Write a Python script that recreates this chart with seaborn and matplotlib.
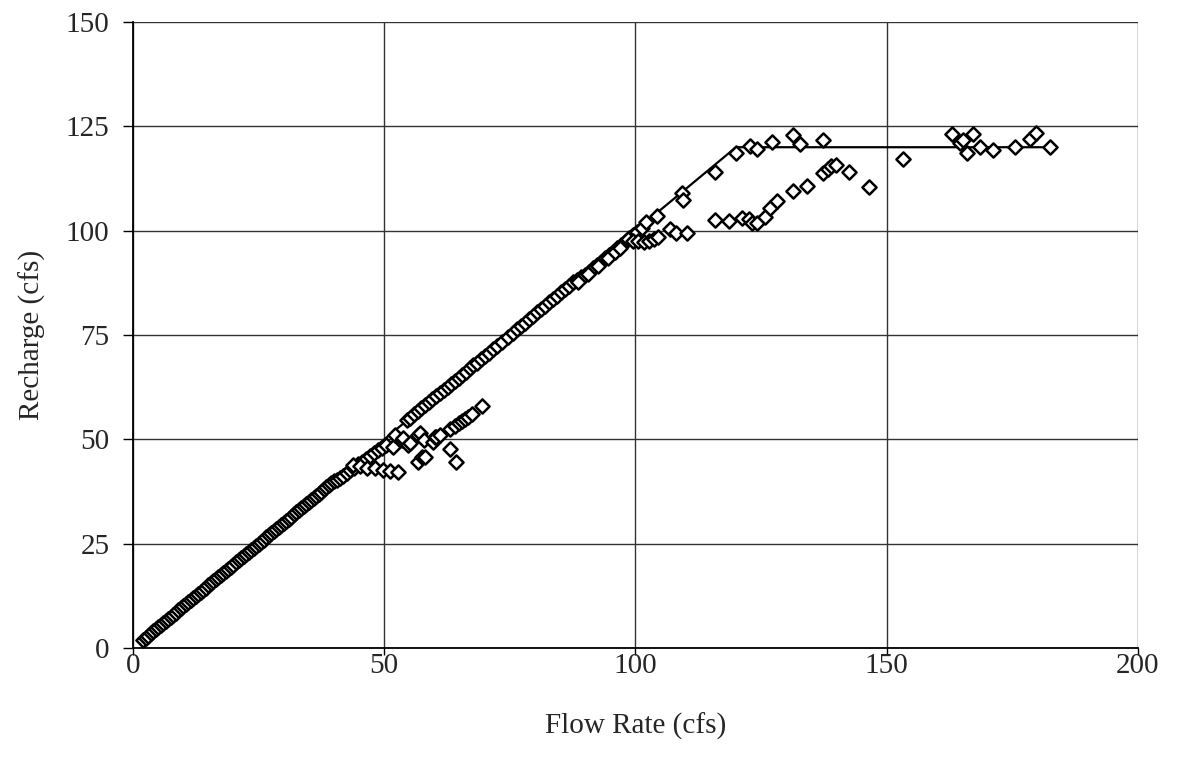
import matplotlib
matplotlib.use("Agg")
import matplotlib.pyplot as plt
import seaborn as sns
import pandas as pd

# Daily observations: streamflow vs. recharge (cfs)
flow_main = [2.0, 2.5, 3.0, 3.5, 4.0, 4.5, 5.0, 5.5, 6.0, 6.5, 7.0, 7.5, 8.0, 8.5,
             9.0, 9.5, 10.0, 10.5, 11.0, 11.5, 12.0, 12.5, 13.0, 13.5, 14.0, 14.5,
             15.0, 15.5, 16.0, 16.5, 17.0, 17.5, 18.0, 18.5, 19.0, 19.5, 20.0, 20.5,
             21.0, 21.5, 22.0, 22.5, 23.0, 23.5, 24.0, 24.5, 25.0, 25.5, 26.0, 26.5,
             27.0, 27.5, 28.0, 28.5, 29.0, 29.5, 30.0, 30.5, 31.0, 31.5, 32.0, 32.5,
             33.0, 33.5, 34.0, 34.5, 35.0, 35.5, 36.0, 36.5, 37.0, 37.5, 38.0, 38.5,
             39.0, 39.5, 40.0, 40.6, 41.2, 41.8]
recharge_main = [2.0, 2.5, 3.0, 3.5, 4.0, 4.5, 5.0, 5.5, 6.0, 6.5, 7.0, 7.5, 8.0, 8.5,
                 9.0, 9.5, 10.0, 10.5, 11.0, 11.5, 12.0, 12.5, 13.0, 13.5, 14.0, 14.5,
                 15.0, 15.5, 16.0, 16.5, 17.0, 17.5, 18.0, 18.5, 19.0, 19.5, 20.0, 20.5,
                 21.0, 21.5, 22.0, 22.5, 23.0, 23.5, 24.0, 24.5, 25.0, 25.5, 26.0, 26.5,
                 27.0, 27.5, 28.0, 28.5, 29.0, 29.5, 30.0, 30.5, 31.0, 31.5, 32.0, 32.5,
                 33.0, 33.5, 34.0, 34.5, 35.0, 35.5, 36.0, 36.5, 37.0, 37.5, 38.0, 38.5,
                 39.0, 39.5, 40.0, 40.3, 40.8, 41.3]

flow_mid = [42.5, 43.2, 44.0, 44.8, 45.6, 46.4, 47.2, 48.0, 48.8, 49.6, 50.4,
            54.5, 55.2, 56.0, 56.7, 57.4, 58.2, 58.9, 59.6, 60.4, 61.1, 61.8, 62.6,
            63.3, 64.0, 64.8, 65.5, 66.2, 67.0, 67.7, 68.4, 69.2, 70.0, 70.8, 71.6,
            72.4, 73.4, 74.6, 75.6, 76.4, 77.2, 78.0, 78.8, 79.6, 80.4, 81.2, 82.0,
            82.8, 83.6, 84.4, 85.2, 86.0, 86.8, 87.6, 88.4, 89.2, 90.0, 90.8, 91.6,
            92.4, 93.2, 94.0, 94.8, 95.6, 96.4, 97.2, 98.0, 98.8, 99.6, 100.4, 101.2,
            102.1, 104.3, 109.2, 109.5, 115.8, 120.1, 122.8, 124.1, 127.1, 131.4,
            132.7, 137.3]
recharge_mid = [42.0, 42.6, 43.2, 44.0, 44.6, 45.3, 46.0, 46.7, 47.4, 48.0, 48.6,
                54.6, 55.2, 56.0, 56.7, 57.4, 58.2, 58.9, 59.6, 60.4, 61.1, 61.8, 62.6,
                63.3, 64.0, 64.8, 65.5, 66.2, 67.0, 67.7, 68.4, 69.2, 70.0, 70.8, 71.6,
                72.4, 73.4, 74.6, 75.6, 76.4, 77.2, 78.0, 78.8, 79.6, 80.4, 81.2, 82.0,
                82.8, 83.6, 84.4, 85.2, 86.0, 86.8, 87.6, 88.2, 88.8, 89.4, 90.2, 91.0,
                91.8, 92.6, 93.4, 94.2, 95.0, 95.8, 96.6, 97.4, 98.2, 99.0, 99.8, 100.6,
                102.2, 103.5, 109.0, 107.4, 114.1, 118.5, 120.3, 119.5, 121.3, 122.9,
                120.8, 121.7]

# Days where recharge fell below the capacity curve
flow_low = [43.8, 45.2, 46.5, 48.2, 49.8, 51.1, 51.8, 52.1, 52.8, 53.5, 53.8,
            54.8, 55.1, 56.8, 56.8, 57.1, 57.5, 58.0, 58.1, 59.8, 60.1, 60.4, 61.1,
            63.1, 63.1, 64.0, 64.3, 64.8, 65.4, 66.1, 66.7, 67.4, 69.4,
            88.5, 90.5, 92.5, 94.5, 96.0, 97.0, 98.6, 99.6, 100.6, 101.6, 102.6,
            103.6, 104.5, 106.9, 108.1, 110.3, 115.8, 118.6, 121.3, 122.6, 123.1,
            124.1, 125.8, 126.8, 128.2, 131.4, 134.1, 137.3, 138.4, 139.0, 140.0,
            142.5, 146.5, 153.2]
recharge_low = [43.9, 43.5, 43.1, 43.1, 42.7, 42.3, 48.2, 51.0, 42.2, 49.8, 50.3,
                48.6, 49.2, 51.0, 44.6, 51.6, 45.8, 49.8, 45.8, 49.4, 50.6, 50.6, 51.0,
                52.4, 47.8, 53.2, 44.6, 53.9, 54.4, 54.9, 55.4, 56.1, 58.1,
                87.6, 89.6, 91.5, 93.4, 94.8, 95.8, 97.9, 97.6, 97.6, 97.4, 97.6,
                97.9, 98.4, 100.3, 99.4, 99.4, 102.6, 102.3, 103.0, 102.8, 101.8,
                101.8, 103.4, 105.4, 107.1, 109.4, 110.8, 113.8, 114.9, 115.5, 115.7,
                114.1, 110.5, 117.1]

# Days above the capacity limit
flow_high = [162.9, 164.6, 165.2, 166.0, 167.1, 168.6, 171.2, 175.5, 178.5,
             179.8, 182.5]
recharge_high = [123.2, 120.9, 121.7, 118.7, 123.2, 120.1, 119.3, 120.1, 121.9,
                 123.3, 120.1]

# Recharge capacity curve
curve_flow = [2, 120, 182]
curve_recharge = [2, 120, 120]

obs = pd.DataFrame({
    "flow": flow_main + flow_mid + flow_low + flow_high,
    "recharge": recharge_main + recharge_mid + recharge_low + recharge_high,
})
curve = pd.DataFrame({"flow": curve_flow, "recharge": curve_recharge})

sns.set_style("white")
plt.rcParams["font.family"] = ["Liberation Serif", "DejaVu Serif"]

fig = plt.figure(figsize=(11.78, 7.70), dpi=100)
ax = fig.add_axes([0.1129, 0.1584, 0.8531, 0.8130])

sns.lineplot(data=curve, x="flow", y="recharge", ax=ax, color="black",
             linewidth=1.6, zorder=2)
sns.scatterplot(data=obs, x="flow", y="recharge", ax=ax, marker="D", s=52,
                facecolor="white", edgecolor="black", linewidth=1.8, zorder=3)

ax.set_xlim(0, 200)
ax.set_ylim(0, 150)
ax.set_xticks([0, 50, 100, 150, 200])
ax.set_yticks([0, 25, 50, 75, 100, 125, 150])
ax.grid(True, color="#333333", linewidth=1.0)
ax.set_axisbelow(True)

for side in ["top", "right"]:
    ax.spines[side].set_visible(False)
for side in ["left", "bottom"]:
    ax.spines[side].set_color("black")
    ax.spines[side].set_linewidth(1.3)

ax.tick_params(axis="both", direction="out", width=1.0,
               color="black", labelsize=21, left=True, bottom=True)
ax.tick_params(axis="y", length=7, pad=10)
ax.tick_params(axis="x", length=5, pad=-1.5)

ax.set_xlabel("Flow Rate (cfs)", fontsize=21, labelpad=24)
ax.set_ylabel("Recharge (cfs)", fontsize=21, labelpad=14)

fig.savefig("out.png", dpi=100)
